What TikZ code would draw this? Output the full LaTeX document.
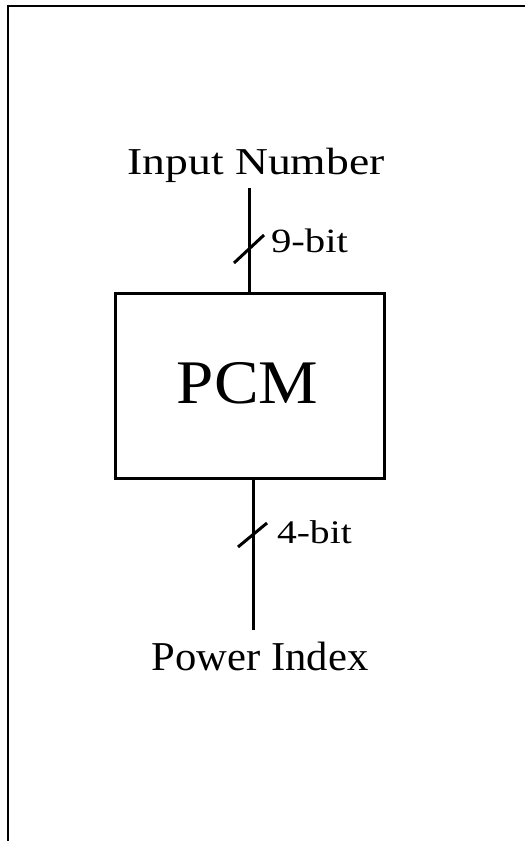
\documentclass[tikz,border=0pt]{standalone}
\usepackage{fontspec}
\setmainfont{Liberation Serif}
\begin{document}
\begin{tikzpicture}[x=1pt,y=-1pt,
  wire/.style={line width=3pt},
  lbl/.style={inner sep=0pt, outer sep=0pt}]
\useasboundingbox (0,0) rectangle (525,841);
% frame (top and left only)
\draw[line width=2.2pt] (8,841) -- (8,6) -- (525,6);
% box
\node[draw, line width=3pt, minimum width=269pt, minimum height=185pt, inner sep=0pt] (pcm) at (249.5,385.5) {};
\node[lbl, anchor=base] (pcmtxt) at (247.5,403) {\fontsize{62}{62}\selectfont\scalebox{1.08}[1]{PCM}};
% labels
\node[lbl, anchor=base] (in) at (256,174) {\fontsize{38}{38}\selectfont\scalebox{1.2}[1]{Input Number}};
\node[lbl, anchor=base] (out) at (260,670) {\fontsize{41}{41}\selectfont\scalebox{1.04}[1]{Power Index}};
\node[lbl, anchor=base west] (nine) at (271,252) {\fontsize{34}{34}\selectfont\scalebox{1.2}[1]{9-bit}};
\node[lbl, anchor=base west] (four) at (277,543) {\fontsize{33}{33}\selectfont\scalebox{1.2}[1]{4-bit}};
% wires
\coordinate (wtop) at (249.5,188);
\coordinate (wb1) at (253,478);
\coordinate (wbot) at (253,630);
\draw[wire] (wtop) -- (pcm.north);
\draw[wire] (wb1) -- (wbot);
% bus slashes
\coordinate (s1a) at (234,263);
\coordinate (s1b) at (264,235);
\coordinate (s2a) at (238,547);
\coordinate (s2b) at (267,523);
\draw[wire] (s1a) -- (s1b);
\draw[wire] (s2a) -- (s2b);
\end{tikzpicture}
\end{document}
